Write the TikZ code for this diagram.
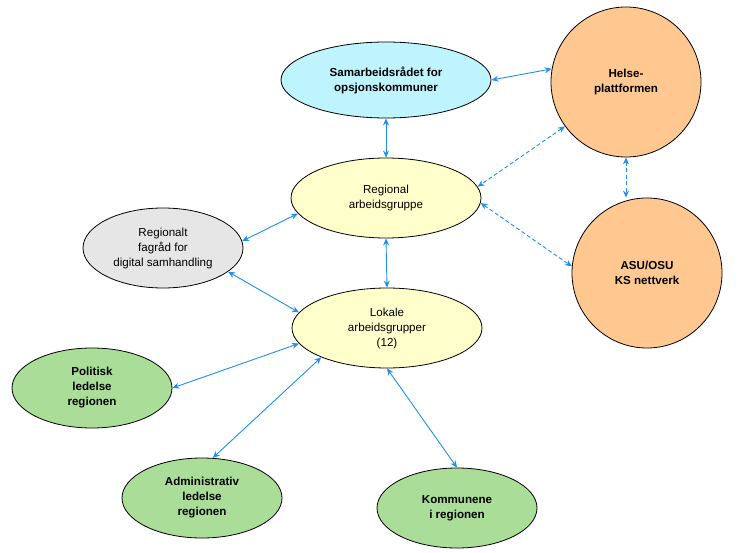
\documentclass[tikz,border=0pt]{standalone}
\usepackage{fontspec}
\setmainfont{Liberation Sans}
\usetikzlibrary{shapes.geometric,arrows.meta}
\definecolor{skycyan}{HTML}{BDF4FD}
\definecolor{peach}{HTML}{FFC891}
\definecolor{paleyellow}{HTML}{FFFFCC}
\definecolor{lightgrey}{HTML}{E6E6E6}
\definecolor{leafgreen}{HTML}{A9DD98}
\definecolor{linkblue}{HTML}{1E90F0}

\begin{document}
\begin{tikzpicture}[x=1pt, y=-1pt]

  % Set default font and shapes
  \tikzset{every node/.style={font=\fontsize{11.6}{15}\selectfont, align=center, inner sep=0pt}}
  \tikzset{
    bold/.style={font=\fontsize{11.6}{15}\selectfont\bfseries},
    oval/.style={ellipse, draw=black, line width=0.8pt, minimum width=160pt, minimum height=80pt},
    ball/.style={circle, draw=black, line width=0.8pt, fill=peach, minimum size=150pt, bold},
    link/.style={draw=linkblue, line width=0.9pt, {Stealth[length=7pt,width=6pt]}-{Stealth[length=7pt,width=6pt]}},
    dashlink/.style={link, dash pattern=on 4pt off 2.5pt}
  }

  \useasboundingbox (0,0) rectangle (743,553);

  % Top row
  \node[
    oval,
    bold,
    fill=skycyan,
    minimum width=210pt,
    minimum height=76pt
  ] (samarbeid) at (386,80) {Samarbeidsrådet for\\opsjonskommuner};

  \node[ball] (helse) at (626,82) {Helse-\\plattformen};

  % Middle
  \node[
    oval,
    fill=paleyellow,
    minimum width=190pt
  ] (regional) at (386,198) {Regional\\arbeidsgruppe};

  \node[ball] (asu) at (647,273) {ASU/OSU\\KS nettverk};

  \node[
    oval,
    fill=lightgrey
  ] (fagrad) at (163,248) {Regionalt\\fagråd for\\digital samhandling};

  \node[
    oval,
    fill=paleyellow,
    minimum width=190pt
  ] (lokale) at (387,328) {Lokale\\arbeidsgrupper\\(12)};

  % Bottom row
  \node[oval, bold, fill=leafgreen] (politisk) at (92,388) {Politisk\\ledelse\\regionen};

  \node[oval, bold, fill=leafgreen] (admin) at (202,498) {Administrativ\\ledelse\\regionen};

  \node[oval, bold, fill=leafgreen] (kommunene) at (457,508) {Kommunene\\i regionen};

  % Connections
  \draw[link] (samarbeid.east) -- (helse.170);
  \draw[link] (samarbeid.south) -- (regional.north);
  \draw[dashlink] (helse.216) -- (regional.7);
  \draw[dashlink] (regional.-3) -- (asu.175);
  \draw[dashlink] (helse.south) -- (helse.south |- asu.north);
  \draw[link] (regional.190) -- (fagrad.5);
  \draw[link] (fagrad.-20) -- (lokale.170);
  \draw[link] (regional.south) -- (lokale.north);
  \draw[link] (lokale.190) -- (politisk.east);
  \draw[link] (lokale.204) -- (admin.75);
  \draw[link] (lokale.south) -- (kommunene.north);

\end{tikzpicture}
\end{document}
